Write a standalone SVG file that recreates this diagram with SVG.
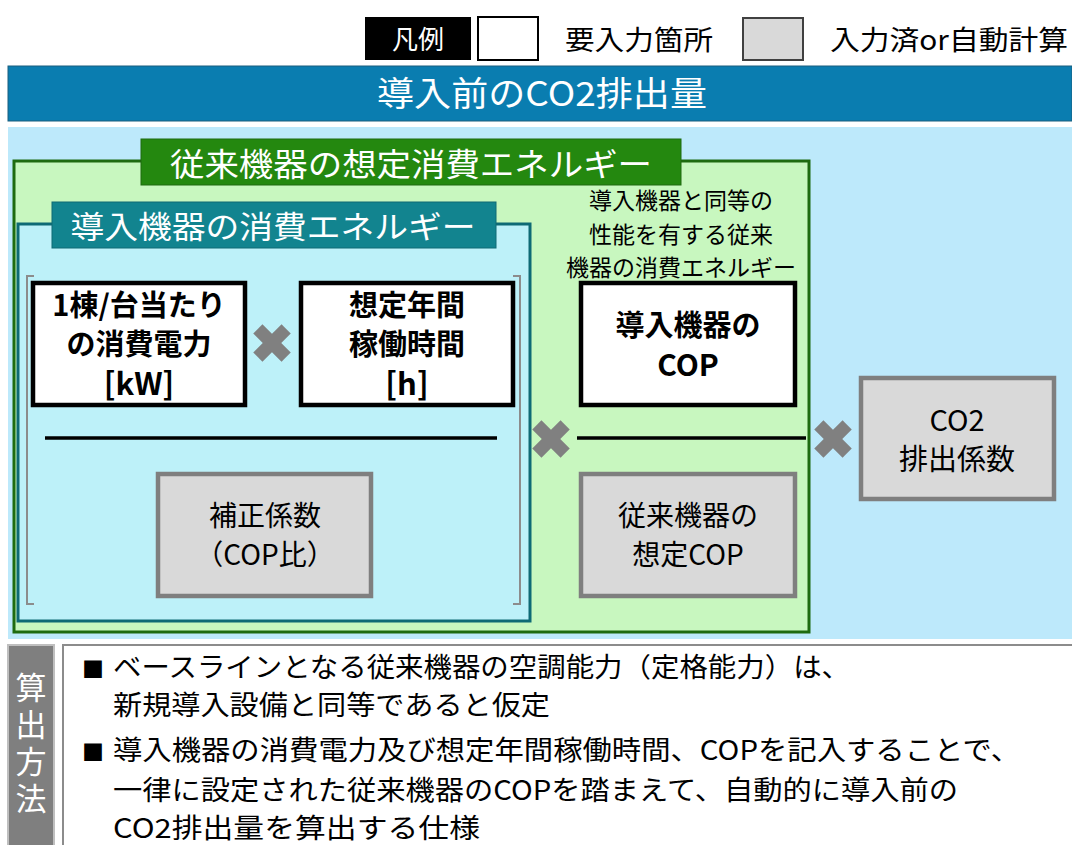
<svg xmlns="http://www.w3.org/2000/svg" xmlns:xlink="http://www.w3.org/1999/xlink" width="1072" height="845" viewBox="0 0 1072 845">
<style>
text{font-family:"Noto Sans CJK JP","Noto Sans",sans-serif;}
.w{fill:#fff;}
.k{fill:#000;}
.b{font-weight:bold;}
.inp{fill:#fff;stroke:#000;stroke-width:4.5;}
.calc{fill:#D9D9D9;stroke:#7F7F7F;stroke-width:4.5;}
.div{stroke:#000;stroke-width:3.5;}
.brk{fill:none;stroke:#8C8C8C;stroke-width:2;}
.mid{text-anchor:middle;}
</style>
<defs>
<g id="x"><rect x="-20" y="-6.5" width="40" height="13" transform="rotate(45)" fill="#808080"/><rect x="-20" y="-6.5" width="40" height="13" transform="rotate(-45)" fill="#808080"/></g>
</defs>
<rect width="1072" height="845" fill="#fff"/>

<g id="legend">
<rect x="365" y="17" width="106" height="43" fill="#000"/>
<text x="418" y="49" class="w mid" font-size="26">凡例</text>
<rect x="478" y="17" width="60" height="43" fill="#fff" stroke="#000" stroke-width="2"/>
<text x="565" y="50" font-size="27" textLength="148" lengthAdjust="spacingAndGlyphs">要入力箇所</text>
<rect x="743" y="18" width="60" height="42" fill="#D9D9D9" stroke="#404040" stroke-width="2"/>
<text x="830" y="50" font-size="27" textLength="238" lengthAdjust="spacingAndGlyphs">入力済or自動計算</text>
</g>

<g id="title">
<rect x="8" y="66" width="1064" height="55" fill="#0A7DB0" stroke="#1A5F7F" stroke-width="1"/>
<text x="542" y="106" class="w mid" font-size="34" textLength="330" lengthAdjust="spacingAndGlyphs">導入前のCO2排出量</text>
</g>

<rect x="8" y="127" width="1064" height="512" fill="#BDE9FB"/>

<g id="conventional">
<rect x="14" y="161" width="795" height="471" fill="#C8F7BF" stroke="#1E6B10" stroke-width="3"/>
<rect x="141" y="139" width="540" height="46" fill="#24880F" stroke="#1E6B10" stroke-width="1"/>
<text x="411" y="176" class="w mid" font-size="32" textLength="482" lengthAdjust="spacingAndGlyphs">従来機器の想定消費エネルギー</text>
</g>

<g id="introduced">
<rect x="18" y="224" width="512" height="397" fill="#BDF1F9" stroke="#0E6A75" stroke-width="3"/>
<rect x="52" y="202" width="444" height="46" fill="#12848F" stroke="#0E6A75" stroke-width="1"/>
<text x="273" y="238" class="w mid" font-size="31" textLength="405" lengthAdjust="spacingAndGlyphs">導入機器の消費エネルギー</text>
<path class="brk" d="M34,276 H27 V604 H34"/>
<path class="brk" d="M513,276 H520 V604 H513"/>
</g>

<g id="power">
<rect class="inp" x="33" y="283" width="212" height="122"/>
<text x="139" y="316" class="k b mid" font-size="29">1棟/台当たり</text>
<text x="139" y="355" class="k b mid" font-size="29">の消費電力</text>
<text x="139" y="395" class="k b mid" font-size="31">[kW]</text>
</g>

<g id="hours">
<rect class="inp" x="301" y="283" width="212" height="122"/>
<text x="407" y="316" class="k b mid" font-size="29">想定年間</text>
<text x="407" y="355" class="k b mid" font-size="29">稼働時間</text>
<text x="407" y="395" class="k b mid" font-size="31">[h]</text>
</g>

<g id="correction">
<rect class="calc" x="158" y="474" width="213" height="122"/>
<text x="265" y="526" class="k mid" font-size="28">補正係数</text>
<text x="265" y="565" class="k mid" font-size="28">（COP比）</text>
</g>

<g id="note">
<text x="681" y="209" class="k mid" font-size="23">導入機器と同等の</text>
<text x="681" y="243" class="k mid" font-size="23">性能を有する従来</text>
<text x="681" y="276" class="k mid" font-size="23">機器の消費エネルギー</text>
</g>

<g id="cop">
<rect class="inp" x="581" y="283" width="214" height="122"/>
<text x="688" y="336" class="k b mid" font-size="29">導入機器の</text>
<text x="688" y="376" class="k b mid" font-size="30">COP</text>
</g>

<g id="conv-cop">
<rect class="calc" x="581" y="474" width="214" height="122"/>
<text x="688" y="526" class="k mid" font-size="28">従来機器の</text>
<text x="688" y="565" class="k mid" font-size="28">想定COP</text>
</g>

<g id="co2factor">
<rect class="calc" x="861" y="378" width="193" height="121"/>
<text x="957" y="431" class="k mid" font-size="29">CO2</text>
<text x="957" y="470" class="k mid" font-size="29">排出係数</text>
</g>

<g id="connectors">
<line class="div" x1="45" y1="438" x2="497" y2="438"/>
<line class="div" x1="577" y1="438" x2="806" y2="438"/>
<use xlink:href="#x" x="272" y="343"/>
<use xlink:href="#x" x="551" y="439"/>
<use xlink:href="#x" x="833" y="439"/>
</g>

<g id="method">
<rect x="8" y="645" width="46" height="205" fill="#7F7F7F" stroke="#BFBFBF" stroke-width="2"/>
<text x="31" y="672" class="w" font-size="31" writing-mode="vertical-rl" letter-spacing="6">算出方法</text>
<rect x="63" y="645" width="1012" height="205" fill="#fff" stroke="#8C8C8C" stroke-width="2"/>
<text x="82" y="677" class="k" font-size="27"><tspan font-size="22">■</tspan></text>
<text x="113" y="677" class="k" font-size="27" textLength="737" lengthAdjust="spacingAndGlyphs">ベースラインとなる従来機器の空調能力（定格能力）は、</text>
<text x="113" y="715" class="k" font-size="27" textLength="437" lengthAdjust="spacingAndGlyphs">新規導入設備と同等であると仮定</text>
<text x="82" y="760" class="k" font-size="27"><tspan font-size="22">■</tspan></text>
<text x="113" y="760" class="k" font-size="27" textLength="907" lengthAdjust="spacingAndGlyphs">導入機器の消費電力及び想定年間稼働時間、COPを記入することで、</text>
<text x="113" y="800" class="k" font-size="27" textLength="845" lengthAdjust="spacingAndGlyphs">一律に設定された従来機器のCOPを踏まえて、自動的に導入前の</text>
<text x="113" y="838" class="k" font-size="27" textLength="367" lengthAdjust="spacingAndGlyphs">CO2排出量を算出する仕様</text>
</g>
</svg>
